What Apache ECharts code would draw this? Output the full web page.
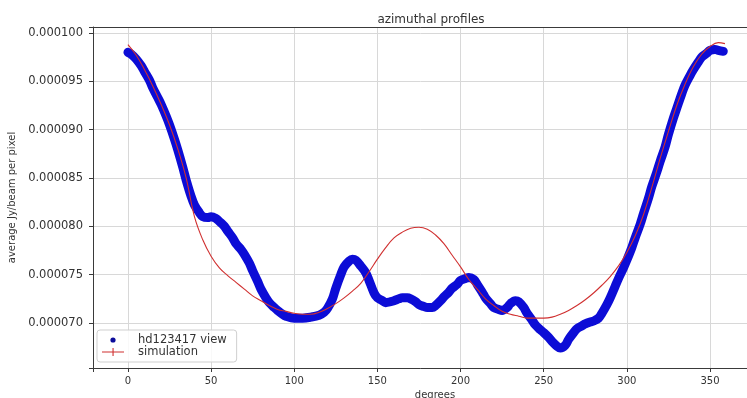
<!DOCTYPE html>
<html>
<head>
<meta charset="utf-8">
<title>azimuthal profiles</title>
<script src="https://cdn.jsdelivr.net/npm/echarts@6/dist/echarts.min.js"></script>
<style>
  html, body { margin: 0; padding: 0; background: #ffffff; }
  #chart { width: 747px; height: 398px; }
</style>
</head>
<body>
<div id="chart"></div>
<script>
// Observed azimuthal profile (degrees vs. average Jy/beam per pixel)
var obsDeg = [0, 2, 5, 8, 10, 13, 15, 18, 20, 23, 25, 28, 30, 33, 35, 38, 40, 43, 45, 48,
  50, 53, 55, 58, 60, 63, 65, 68, 70, 73, 75, 78, 80, 83, 85, 88, 90, 93, 95, 100,
  105, 110, 115, 118, 120, 123, 125, 128, 130, 133, 135, 137, 140, 143, 145, 148, 150, 153, 155, 158,
  160, 163, 165, 168, 170, 173, 175, 178, 180, 183, 185, 188, 190, 193, 195, 198, 200, 203, 205, 208,
  210, 213, 215, 218, 220, 223, 225, 228, 230, 233, 235, 238, 240, 243, 245, 248, 250, 253, 255, 258,
  260, 263, 265, 268, 270, 273, 275, 278, 280, 283, 285, 288, 290, 293, 295, 298, 300, 303, 305, 308,
  310, 313, 315, 318, 320, 323, 325, 328, 330, 333, 335, 338, 340, 343, 345, 348, 350, 353, 355, 358];
var obsVal = [98.0e-6, 97.8e-6, 97.3e-6, 96.6e-6, 96.0e-6, 95.1e-6, 94.3e-6, 93.3e-6, 92.6e-6, 91.4e-6,
  90.5e-6, 89.0e-6, 87.9e-6, 86.1e-6, 84.8e-6, 83.1e-6, 82.2e-6, 81.4e-6, 81.0e-6, 80.9e-6,
  81.0e-6, 80.8e-6, 80.5e-6, 80.0e-6, 79.5e-6, 78.8e-6, 78.2e-6, 77.6e-6, 77.1e-6, 76.2e-6,
  75.4e-6, 74.3e-6, 73.5e-6, 72.6e-6, 72.1e-6, 71.6e-6, 71.3e-6, 70.9e-6, 70.7e-6, 70.5e-6,
  70.5e-6, 70.6e-6, 70.8e-6, 71.1e-6, 71.5e-6, 72.5e-6, 73.6e-6, 75.0e-6, 75.8e-6, 76.4e-6,
  76.6e-6, 76.5e-6, 75.9e-6, 75.2e-6, 74.4e-6, 73.1e-6, 72.6e-6, 72.3e-6, 72.1e-6, 72.2e-6,
  72.3e-6, 72.5e-6, 72.6e-6, 72.6e-6, 72.5e-6, 72.2e-6, 71.9e-6, 71.7e-6, 71.6e-6, 71.6e-6,
  71.8e-6, 72.3e-6, 72.7e-6, 73.2e-6, 73.6e-6, 74.0e-6, 74.4e-6, 74.6e-6, 74.7e-6, 74.5e-6,
  74.0e-6, 73.2e-6, 72.6e-6, 72.0e-6, 71.6e-6, 71.4e-6, 71.3e-6, 71.6e-6, 72.0e-6, 72.3e-6,
  72.2e-6, 71.6e-6, 71.0e-6, 70.3e-6, 69.8e-6, 69.3e-6, 69.0e-6, 68.5e-6, 68.1e-6, 67.6e-6,
  67.4e-6, 67.7e-6, 68.3e-6, 69.0e-6, 69.4e-6, 69.7e-6, 69.9e-6, 70.1e-6, 70.2e-6, 70.5e-6,
  71.0e-6, 71.9e-6, 72.6e-6, 73.8e-6, 74.6e-6, 75.7e-6, 76.5e-6, 77.8e-6, 78.8e-6, 80.2e-6,
  81.3e-6, 82.9e-6, 84.1e-6, 85.6e-6, 86.7e-6, 88.2e-6, 89.5e-6, 91.2e-6, 92.2e-6, 93.7e-6,
  94.6e-6, 95.6e-6, 96.2e-6, 97.0e-6, 97.5e-6, 97.9e-6, 98.2e-6, 98.3e-6, 98.2e-6, 98.1e-6];

// Model profile
var simDeg = [0, 5, 10, 15, 20, 25, 30, 35, 40, 45, 50, 55, 60, 65, 70, 75, 80, 85, 90, 95,
  100, 105, 110, 115, 120, 125, 130, 135, 140, 145, 150, 155, 160, 165, 170, 175, 180, 185, 190, 195,
  200, 205, 210, 215, 220, 225, 230, 235, 240, 245, 250, 255, 260, 265, 270, 275, 280, 285, 290, 295,
  300, 305, 310, 315, 320, 325, 330, 335, 340, 345, 350, 355, 359];
var simVal = [98.8e-6, 97.7e-6, 96.2e-6, 94.5e-6, 92.6e-6, 90.5e-6, 88.0e-6, 85.0e-6, 81.0e-6, 78.6e-6,
  76.9e-6, 75.7e-6, 74.9e-6, 74.2e-6, 73.5e-6, 72.8e-6, 72.3e-6, 71.8e-6, 71.4e-6, 71.2e-6,
  71.0e-6, 70.9e-6, 70.9e-6, 71.1e-6, 71.5e-6, 72.0e-6, 72.6e-6, 73.3e-6, 74.1e-6, 75.3e-6,
  76.6e-6, 77.8e-6, 78.8e-6, 79.4e-6, 79.8e-6, 79.9e-6, 79.7e-6, 79.1e-6, 78.2e-6, 77.0e-6,
  75.8e-6, 74.5e-6, 73.5e-6, 72.5e-6, 71.8e-6, 71.2e-6, 70.9e-6, 70.7e-6, 70.5e-6, 70.5e-6,
  70.5e-6, 70.6e-6, 70.9e-6, 71.3e-6, 71.8e-6, 72.4e-6, 73.1e-6, 73.9e-6, 74.8e-6, 75.9e-6,
  77.3e-6, 79.0e-6, 81.2e-6, 84.0e-6, 87.0e-6, 89.8e-6, 92.5e-6, 94.7e-6, 96.5e-6, 97.8e-6,
  98.6e-6, 99.0e-6, 98.9e-6];

var xTicks = [0, 50, 100, 150, 200, 250, 300, 350];
var yTicks = ['0.000070', '0.000075', '0.000080', '0.000085', '0.000090', '0.000095', '0.000100'];

var seriesNames = ['hd123417 view', 'simulation'];

function pairs(xs, ys) {
  return xs.map(function (x, i) { return [x, ys[i]]; });
}

var chart = echarts.init(document.getElementById('chart'), null, { renderer: 'canvas' });
var font = 'DejaVu Sans';
var axisColor = '#3a3a3a';
var gridColor = '#d8d8d8';
var xMin = -21, xMax = 390.3;

// Legend glyphs: tiny corner anchors keep the drawn shape at its own scale
var iconFrame = 'M0,0h0.01v0.01h-0.01z M21.99,9.99h0.01v0.01h-0.01z ';
var dotIcon = 'path://' + iconFrame + 'M11,2.4a2.6,2.6 0 1,0 0.01,0z';
var plusLineIcon = 'path://' + iconFrame + 'M0,4.5h22v1.1h-22z M10.5,1h1.1v8h-1.1z';

chart.setOption({
  animation: false,
  backgroundColor: '#ffffff',
  textStyle: { fontFamily: font },
  title: {
    text: 'azimuthal profiles',
    left: 426, textAlign: 'center', top: 9,
    textStyle: { fontFamily: font, fontSize: 12, fontWeight: 'normal', color: '#333' }
  },
  grid: {
    left: 93, right: -30, top: 27, bottom: 30,
    outerBoundsMode: 'none', containLabel: false, show: false
  },
  legend: {
    left: 97, top: 330, orient: 'vertical',
    itemGap: 0, itemWidth: 22, itemHeight: 10,
    padding: [4, 10, 4, 5],
    backgroundColor: 'rgba(255,255,255,0.85)',
    borderColor: '#cfcfcf', borderWidth: 1, borderRadius: 3,
    textStyle: { fontFamily: font, fontSize: 11.5, color: '#333', padding: [0, 0, 0, 9] },
    data: [
      { name: seriesNames[0], icon: dotIcon, itemStyle: { color: '#0b0b9a' } },
      { name: seriesNames[1], icon: plusLineIcon, itemStyle: { color: '#d03030' } }
    ]
  },
  xAxis: [
    {
      type: 'value', min: xMin, max: xMax, position: 'bottom',
      name: 'degrees', nameLocation: 'middle', nameGap: 21,
      nameTextStyle: { fontFamily: font, fontSize: 10, color: '#333' },
      axisLine: { show: true, onZero: false, lineStyle: { color: axisColor } },
      axisTick: { show: true, length: 4, lineStyle: { color: axisColor } },
      axisLabel: {
        fontFamily: font, fontSize: 10, color: '#333', margin: 8,
        formatter: function (v) { return xTicks.indexOf(v) >= 0 ? String(v) : ''; }
      },
      splitNumber: 8,
      splitLine: { show: true, lineStyle: { color: gridColor, width: 1 } }
    },
    {
      // top frame line only
      type: 'value', min: xMin, max: xMax, position: 'top',
      axisLine: { show: true, onZero: false, lineStyle: { color: axisColor } },
      axisTick: { show: false }, axisLabel: { show: false }, splitLine: { show: false }
    }
  ],
  yAxis: {
    type: 'value', min: 65.34e-6, max: 100.62e-6, splitNumber: 7,
    name: 'average Jy/beam per pixel', nameLocation: 'middle', nameGap: 75, nameRotate: 90,
    nameTextStyle: { fontFamily: font, fontSize: 10, color: '#333' },
    axisLine: { show: true, onZero: false, lineStyle: { color: axisColor } },
    axisTick: { show: true, length: 4, lineStyle: { color: axisColor } },
    axisLabel: {
      fontFamily: font, fontSize: 11.5, color: '#333', margin: 10,
      formatter: function (v) {
        var s = v.toFixed(6);
        return yTicks.indexOf(s) >= 0 && Math.abs(v - Number(s)) < 1e-9 ? s : '';
      }
    },
    splitLine: { show: true, lineStyle: { color: gridColor, width: 1 } }
  },
  series: [
    {
      name: seriesNames[0], type: 'line', smooth: 0.35, xAxisIndex: 0,
      data: pairs(obsDeg, obsVal),
      showSymbol: false, symbol: 'circle',
      lineStyle: { color: '#0c0cd6', width: 9, cap: 'round', join: 'round' },
      itemStyle: { color: '#0c0cd6' },
      z: 2
    },
    {
      name: seriesNames[1], type: 'line', smooth: 0.4, xAxisIndex: 0,
      data: pairs(simDeg, simVal),
      showSymbol: false,
      lineStyle: { color: '#d03030', width: 1.1 },
      itemStyle: { color: '#d03030' },
      z: 3
    }
  ]
});
</script>
</body>
</html>
